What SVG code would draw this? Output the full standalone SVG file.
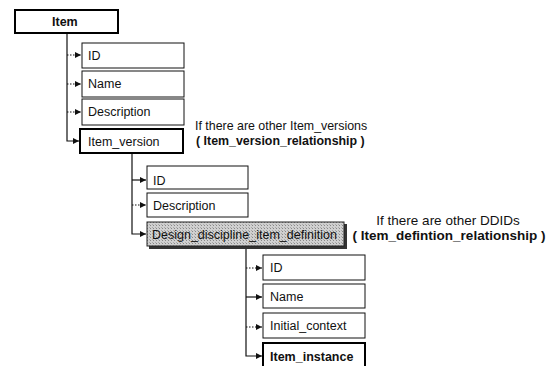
<svg xmlns="http://www.w3.org/2000/svg" width="546" height="366" viewBox="0 0 546 366">
  <style>
    .box { fill: #fff; stroke: #111; stroke-width: 1; }
    .strong { fill: #fff; stroke: #000; stroke-width: 2; }
    .lbl { font-family: "Liberation Sans", Arial, sans-serif; font-size: 12.5px; fill: #111; }
    .bold { font-weight: bold; }
    .note { font-family: "Liberation Sans", Arial, sans-serif; font-size: 12.4px; fill: #111; }
    .note-lg { font-size: 13.5px; }
    .wire { fill: none; stroke: #111; stroke-width: 1.2; }
    .dot { stroke-dasharray: 1.5 1.5; }
  </style>
  <defs>
    <marker id="arr" viewBox="0 0 8 8" refX="8" refY="4" markerWidth="6" markerHeight="6" orient="auto" markerUnits="userSpaceOnUse">
      <path d="M0,0 L8,4 L0,8 z" fill="#111"/>
    </marker>
    <pattern id="dither" width="3" height="3" patternUnits="userSpaceOnUse">
      <rect width="3" height="3" fill="#d0d0d0"/>
      <rect width="1" height="1" fill="#888"/>
      <rect x="2" y="2" width="1" height="1" fill="#aaa"/>
    </pattern>
  </defs>

  <g id="connectors">
    <path class="wire" d="M67,33 V141 H79" marker-end="url(#arr)"/>
    <path class="wire dot" d="M67,55 H81" marker-end="url(#arr)"/>
    <path class="wire dot" d="M67,84 H81" marker-end="url(#arr)"/>
    <path class="wire dot" d="M67,112 H81" marker-end="url(#arr)"/>
    <path class="wire" d="M132,153 V234 H146" marker-end="url(#arr)"/>
    <path class="wire" d="M132,180 H146" marker-end="url(#arr)"/>
    <path class="wire dot" d="M132,205 H146" marker-end="url(#arr)"/>
    <path class="wire" d="M246,248 V356 H262" marker-end="url(#arr)"/>
    <path class="wire dot" d="M246,268 H262" marker-end="url(#arr)"/>
    <path class="wire" d="M246,297 H262" marker-end="url(#arr)"/>
    <path class="wire dot" d="M246,327 H262" marker-end="url(#arr)"/>
  </g>

  <g id="item">
    <rect x="15" y="10" width="103" height="23" class="strong"/>
    <text x="52" y="26" class="lbl bold">Item</text>
  </g>
  <g id="item-id">
    <rect x="82" y="43" width="102" height="25" class="box"/>
    <text x="88" y="60" class="lbl">ID</text>
  </g>
  <g id="item-name">
    <rect x="82" y="71" width="102" height="26" class="box"/>
    <text x="88" y="88" class="lbl">Name</text>
  </g>
  <g id="item-description">
    <rect x="82" y="99" width="102" height="26" class="box"/>
    <text x="88" y="116" class="lbl">Description</text>
  </g>
  <g id="item-version">
    <rect x="80" y="129" width="103" height="24" class="strong"/>
    <text x="88" y="146" class="lbl">Item_version</text>
  </g>
  <g id="version-note">
    <text x="195" y="130" class="note">If there are other Item_versions</text>
    <text x="196" y="145" class="note bold">( Item_version_relationship )</text>
  </g>

  <g id="version-id">
    <rect x="147" y="166" width="101" height="23" class="box"/>
    <text x="153" y="185" class="lbl">ID</text>
  </g>
  <g id="version-description">
    <rect x="147" y="193" width="101" height="24" class="box"/>
    <text x="153" y="210" class="lbl">Description</text>
  </g>
  <g id="ddid">
    <rect x="149" y="224" width="198" height="25" fill="#333"/>
    <rect x="147" y="222" width="197" height="24" fill="url(#dither)" stroke="#222" stroke-width="1"/>
    <text x="152" y="239" class="lbl">Design_discipline_item_definition</text>
  </g>
  <g id="ddid-note">
    <text x="448" y="225" class="note note-lg" text-anchor="middle">If there are other DDIDs</text>
    <text x="449" y="240" class="note note-lg bold" text-anchor="middle">( Item_defintion_relationship )</text>
  </g>

  <g id="ddid-id">
    <rect x="263" y="255" width="102" height="25" class="box"/>
    <text x="270" y="272" class="lbl">ID</text>
  </g>
  <g id="ddid-name">
    <rect x="263" y="284" width="102" height="24" class="box"/>
    <text x="270" y="301" class="lbl">Name</text>
  </g>
  <g id="ddid-initial-context">
    <rect x="263" y="313" width="102" height="25" class="box"/>
    <text x="270" y="330" class="lbl">Initial_context</text>
  </g>
  <g id="ddid-item-instance">
    <rect x="263" y="343" width="102" height="30" class="strong"/>
    <text x="270" y="361" class="lbl bold">Item_instance</text>
  </g>
</svg>
